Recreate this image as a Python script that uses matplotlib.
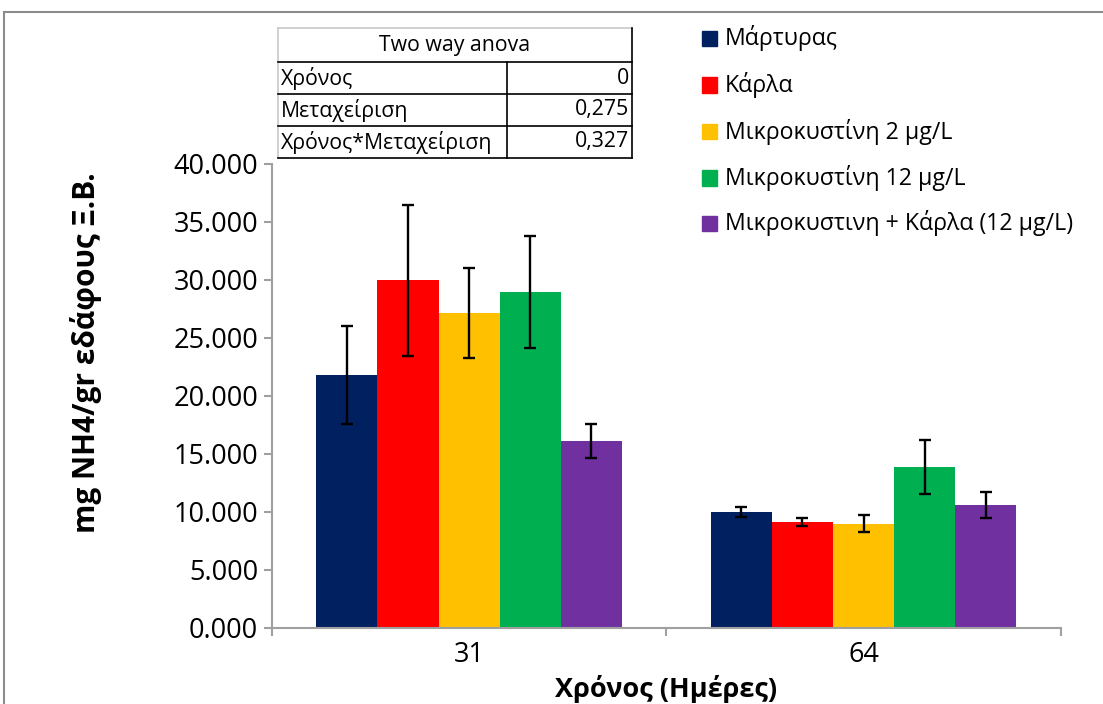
import numpy as np
import matplotlib
matplotlib.use('Agg')
import matplotlib.pyplot as plt
from matplotlib.patches import Rectangle
from matplotlib.lines import Line2D

plt.rcParams['font.family'] = ['Open Sans', 'DejaVu Sans']

days = ['31', '64']
treatments = ['Μάρτυρας', 'Κάρλα', 'Μικροκυστίνη 2 μg/L', 'Μικροκυστίνη 12 μg/L',
              'Μικροκυστινη + Κάρλα (12 μg/L)']
colors = ['#002060', '#FF0000', '#FFC000', '#00B050', '#7030A0']

# mean values per treatment, for day 31 and day 64
means = [
    [21.78, 9.97],
    [29.97, 9.11],
    [27.13, 8.94],
    [28.97, 13.85],
    [16.06, 10.54],
]
errors = [
    [4.24, 0.47],
    [6.50, 0.32],
    [3.90, 0.73],
    [4.85, 2.37],
    [1.47, 1.13],
]

anova_rows = ['Χρόνος', 'Μεταχείριση', 'Χρόνος*Μεταχείριση']
anova_vals = ['0', '0,275', '0,327']

W, H = 1103, 704
fig = plt.figure(figsize=(W / 100, H / 100), dpi=100)


def fx(px):
    return px / W


def fy(py):
    return 1 - py / H


# outer chart frame
fig.patches.append(Rectangle((fx(4), fy(720)), fx(1110), fy(11.7) - fy(720),
                             transform=fig.transFigure, fill=False,
                             edgecolor='#8C8C8C', linewidth=1.5))

ax = fig.add_axes([fx(272), fy(627.5), fx(1060.7) - fx(272), fy(164) - fy(627.5)])

x = np.arange(len(days))
bw = 0.155
for i, name in enumerate(treatments):
    off = (i - 2) * bw
    ax.bar(x + off, means[i], bw, color=colors[i], label=name, linewidth=0)
    ax.errorbar(x + off, means[i], yerr=errors[i], fmt='none', ecolor='black',
                elinewidth=1.7, capsize=4.5, capthick=1.7)

ax.set_xlim(-0.5, 1.5)
ax.set_ylim(0, 40)
ax.set_yticks(np.arange(0, 41, 5))
ax.set_yticklabels(['%.3f' % v for v in np.arange(0, 41, 5)])
ax.set_xticks(x)
ax.set_xticklabels(days)
ax.set_xticks([-0.5, 0.5, 1.5], minor=True)

for s in ['top', 'right']:
    ax.spines[s].set_visible(False)
for s in ['left', 'bottom']:
    ax.spines[s].set_color('#A0A0A0')
    ax.spines[s].set_linewidth(1.5)

ax.tick_params(axis='y', direction='out', length=6, width=1.5, color='#A0A0A0',
               labelsize=19.5, pad=4)
ax.tick_params(axis='x', which='major', length=0, labelsize=19.5, pad=10)
ax.tick_params(axis='x', which='minor', direction='out', length=6, width=1.5,
               color='#A0A0A0')

fig.text(fx(86), fy(353), 'mg NH4/gr εδάφους Ξ.Β.', rotation=90, ha='center',
         va='center', fontsize=21.5, fontweight='bold')
fig.text(fx(666), fy(689), 'Χρόνος (Ημέρες)', ha='center', va='center',
         fontsize=19.5, fontweight='bold')

# legend, drawn by hand to keep Excel-like spacing
leg_y = [38.3, 85, 131.7, 178, 223.3]
for i, name in enumerate(treatments):
    fig.patches.append(Rectangle((fx(702), fy(leg_y[i] + 7.5)), fx(15), fy(0) - fy(15),
                                 transform=fig.transFigure, color=colors[i]))
    fig.text(fx(725), fy(leg_y[i]), name, ha='left', va='center', fontsize=16.7)

# two way anova table
tl, tr, tm = 278, 632, 507
rows_y = [28, 62, 94, 126, 158]


def hline(y, x0, x1, c):
    fig.add_artist(Line2D([fx(x0), fx(x1)], [fy(y), fy(y)], color=c, lw=1.2,
                          transform=fig.transFigure))


def vline(xp, y0, y1, c):
    fig.add_artist(Line2D([fx(xp), fx(xp)], [fy(y0), fy(y1)], color=c, lw=1.2,
                          transform=fig.transFigure))


hline(rows_y[0], tl, tr, '#C8C8C8')
vline(tl, rows_y[0], rows_y[-1], '#C8C8C8')
for yy in rows_y[1:]:
    hline(yy, tl, tr, 'black')
vline(tr, rows_y[0], rows_y[-1], 'black')
vline(tm, rows_y[1], rows_y[-1], 'black')

fig.text(fx((tl + tr) / 2), fy((rows_y[0] + rows_y[1]) / 2), 'Two way anova',
         ha='center', va='center', fontsize=15.3)
for i, (lab, val) in enumerate(zip(anova_rows, anova_vals)):
    yc = (rows_y[i + 1] + rows_y[i + 2]) / 2
    fig.text(fx(tl + 3), fy(yc), lab, ha='left', va='center', fontsize=15.3)
    fig.text(fx(tr - 3), fy(yc), val, ha='right', va='center', fontsize=15.3)

fig.savefig('out.png', dpi=100)
